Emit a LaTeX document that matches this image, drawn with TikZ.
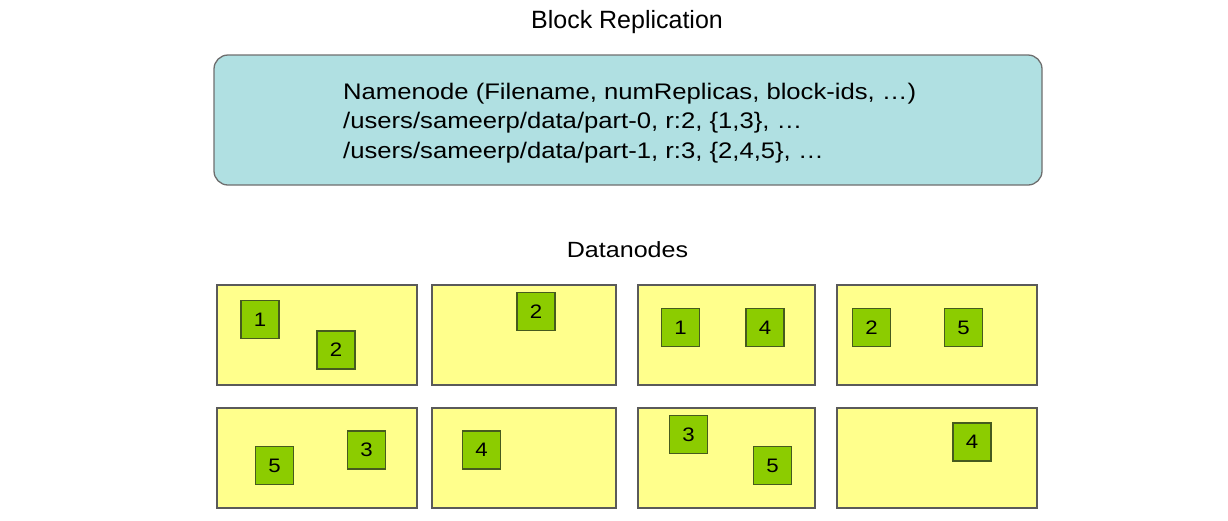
\documentclass[tikz,border=0pt]{standalone}
\usepackage{fontspec}
\setmainfont{Liberation Sans}
\newfontfamily\widefont{Liberation Sans}[FakeStretch=1.14]
\definecolor{nnfill}{RGB}{176,224,226}
\definecolor{nnborder}{RGB}{110,110,110}
\definecolor{dnfill}{RGB}{255,255,140}
\definecolor{dnborder}{RGB}{90,90,90}
\definecolor{blkfill}{RGB}{140,204,0}
\definecolor{blkborder}{RGB}{70,90,30}
\begin{document}
\begin{tikzpicture}[x=1pt,y=-1pt,
  nn/.style={draw=nnborder, fill=nnfill, line width=1.3pt, rounded corners=14pt},
  dn/.style={draw=dnborder, fill=dnfill, line width=1.3pt, anchor=north west, inner sep=0pt, outer sep=0pt},
  blk/.style={draw=blkborder, fill=blkfill, line width=1.2pt, minimum width=38pt, minimum height=38pt, inner sep=0pt,
    font=\widefont\fontsize{19.5}{22}\selectfont},
  lbl/.style={anchor=base, inner sep=0pt}]
\useasboundingbox (0,0) rectangle (1228,520);
% title
\node[lbl, font=\fontsize{25}{30}\selectfont] (title) at (627,28) {Block Replication};
% namenode
\draw[nn] (214,55) rectangle (1042,185);
\node[anchor=base west, inner sep=0pt, align=left, font=\widefont\fontsize{22.5}{29.5}\selectfont] (nntext) at (343,158)
  {Namenode (Filename, numReplicas, block-ids, \dots)\\
   /users/sameerp/data/part-0, r:2, \{1,3\}, \dots\\
   /users/sameerp/data/part-1, r:3, \{2,4,5\}, \dots};
% datanodes label
\node[lbl, font=\widefont\fontsize{22}{26}\selectfont] (dnlabel) at (627.5,257) {Datanodes};
% datanode boxes
\node[dn, minimum width=200pt, minimum height=100pt] (d1) at (217,285) {};
\node[dn, minimum width=184pt, minimum height=100pt] (d2) at (432,285) {};
\node[dn, minimum width=177pt, minimum height=100pt] (d3) at (638,285) {};
\node[dn, minimum width=200pt, minimum height=100pt] (d4) at (837,285) {};
\node[dn, minimum width=200pt, minimum height=100pt] (d5) at (217,408) {};
\node[dn, minimum width=184pt, minimum height=100pt] (d6) at (432,408) {};
\node[dn, minimum width=177pt, minimum height=100pt] (d7) at (638,408) {};
\node[dn, minimum width=200pt, minimum height=100pt] (d8) at (837,408) {};
% blocks
\node[blk] (b11) at (260,319.5) {1};
\node[blk] (b12) at (336,350) {2};
\node[blk] (b22) at (536,311.5) {2};
\node[blk] (b31) at (680.5,327.5) {1};
\node[blk] (b34) at (765,327.5) {4};
\node[blk] (b42) at (871.5,327.5) {2};
\node[blk] (b45) at (963.5,327.5) {5};
\node[blk] (b55) at (274.5,465.5) {5};
\node[blk] (b53) at (366.5,450) {3};
\node[blk] (b64) at (481.5,450) {4};
\node[blk] (b73) at (688.5,434.5) {3};
\node[blk] (b75) at (772.5,465.5) {5};
\node[blk] (b84) at (972,442) {4};
\end{tikzpicture}
\end{document}
